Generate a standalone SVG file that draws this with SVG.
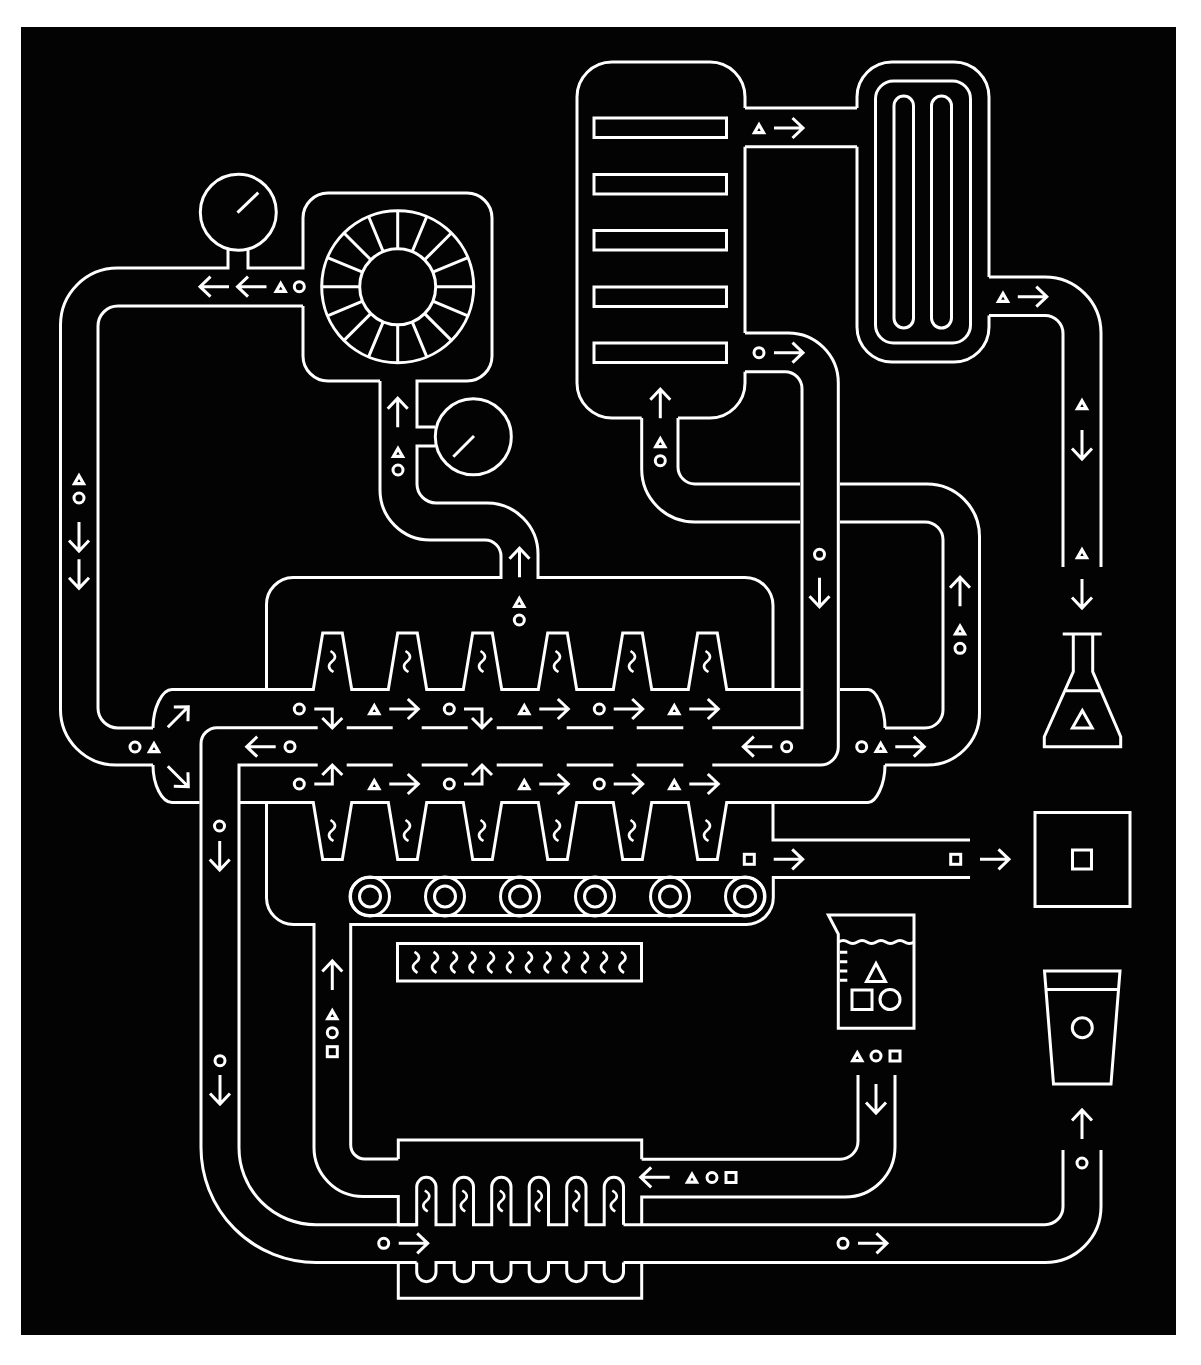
<svg xmlns="http://www.w3.org/2000/svg" width="1201" height="1365" viewBox="0 0 1201 1365">
<style>
.l{fill:none;stroke:#fff;stroke-width:3}
use{fill:none;stroke:#fff;stroke-width:3}
</style>
<defs>
<path id="a" d="M-29,0H0M-10.5,-10L0,0L-10.5,10"/>
<path id="e" d="M-18,-19H0V-1M-10,-10L0,0L10,-10"/>
<path id="t" d="M0,-3.2L4.5,4.6H-4.5Z" stroke-width="3.2"/>
<circle id="c" r="5"/>
<rect id="s" x="-5" y="-5" width="10" height="10"/>
<path id="w" d="M-1.5,-10.5C4.5,-7 4,-3 0,0C-4,3 -4.5,7 1.5,10.5" stroke-width="2.6"/>
</defs>
<rect x="0" y="0" width="1201" height="1365" fill="#fff"/>
<rect x="21" y="27" width="1155" height="1308" fill="#030303"/>
<g id="connectors" class="l">
<path d="M153,765H116A55.5,55.5 0 0 1 60.5,709.5V325A57,57 0 0 1 117.5,268H228V250"/>
<path d="M153,728H118A20,20 0 0 1 98,708V326A20,20 0 0 1 118,306H303"/>
<path d="M380,381V490A50,50 0 0 0 430,540H485A16,16 0 0 1 501,556V577.5H293A27,27 0 0 0 266.5,604.5V689.5"/>
<path d="M435,446H417V484A19,19 0 0 0 436,503H487A51,51 0 0 1 538,554V577.5H745A28,28 0 0 1 773,605.5V689.5"/>
<path d="M745,371.7H785A17,17 0 0 1 802,388.7V727.7H712.3"/>
<path d="M745,333H788A50,50 0 0 1 838.3,383V747A18,18 0 0 1 820.3,765H712.3"/>
<path d="M678,418V467A17,17 0 0 0 695,484H800"/>
<path d="M641.7,418V469A53,53 0 0 0 694.7,522H800"/>
<path d="M840,484H927A52.5,52.5 0 0 1 979.5,536.5V713A52,52 0 0 1 927.5,765H885"/>
<path d="M840,522H925A18,18 0 0 1 943,540V710A18,18 0 0 1 925,728H885"/>
<path d="M745,108H857M745,146.7H857"/>
<path d="M989,277H1045A56,56 0 0 1 1101,333V567"/>
<path d="M989,315.5H1045A18,18 0 0 1 1063,333.5V567"/>
<path d="M317.7,727.7H217A16,16 0 0 0 201,743.7V1147A115,115 0 0 0 316,1262.5H416.7"/>
<path d="M317.7,765H239V1147A77,77 0 0 0 316,1224.7H416.7"/>
<path d="M346.7,727.7H392.7M421.7,727.7H467.7M496.7,727.7H542.7M566.7,727.7H613.3M636.7,727.7H683.3"/>
<path d="M346.7,765H392.7M421.7,765H467.7M496.7,765H542.7M566.7,765H613.3M636.7,765H683.3"/>
<path d="M266.5,802.5V898A27,27 0 0 0 293.5,924.5H314V1147A49,49 0 0 0 363,1196.5H398.3V1224.7"/>
<path d="M773,802.5V840H970M970,877.5H773.3V897A27,27 0 0 1 746.3,924.5H350.7V1145A14,14 0 0 0 364.7,1159H398.3"/>
<path d="M623.5,1224.7H1045A18,18 0 0 0 1063,1206.7V1150"/>
<path d="M623.5,1262.5H1045A56,56 0 0 0 1101,1206.5V1150"/>
<path d="M641.7,1224.7V1197H845A50,50 0 0 0 895,1147V1075"/>
<path d="M641.7,1159.3H840A18,18 0 0 0 858,1141.3V1075"/>
</g>
<g id="gauge-top" class="l">
<circle cx="238.3" cy="212.3" r="38"/>
<path d="M237.5,212.7L258.3,192.7"/>
</g>
<g id="gauge-mid" class="l">
<circle cx="473.3" cy="436.7" r="38"/>
<path d="M453.3,456.7L474,436"/>
</g>
<g id="turbine" class="l">
<path d="M248,250V268H303V218A25,25 0 0 1 328,193H467A25,25 0 0 1 492,218V356A25,25 0 0 1 467,381H417V427H435M303,306V356A25,25 0 0 0 328,381H380"/>
<g transform="translate(397.7,286.7)">
<circle r="76"/>
<circle r="38"/>
<path d="M38,0H76M-38,0H-76M0,38V76M0,-38V-76M35.1,14.5L70.2,29.1M-35.1,14.5L-70.2,29.1M35.1,-14.5L70.2,-29.1M-35.1,-14.5L-70.2,-29.1M14.5,35.1L29.1,70.2M-14.5,35.1L-29.1,70.2M14.5,-35.1L29.1,-70.2M-14.5,-35.1L-29.1,-70.2M26.9,26.9L53.7,53.7M-26.9,26.9L-53.7,53.7M26.9,-26.9L53.7,-53.7M-26.9,-26.9L-53.7,-53.7"/>
</g>
</g>
<g id="column" class="l">
<path d="M745,108V97A35,35 0 0 0 710,62H612A35,35 0 0 0 577,97V383A35,35 0 0 0 612,418H641.7M678,418H710A35,35 0 0 0 745,383V371.7M745,146.7V333"/>
<rect x="594" y="118" width="132.5" height="19.5"/>
<rect x="594" y="174.5" width="132.5" height="19.5"/>
<rect x="594" y="230.5" width="132.5" height="19.5"/>
<rect x="594" y="287" width="132.5" height="19.5"/>
<rect x="594" y="343" width="132.5" height="19.5"/>
</g>
<g id="condenser" class="l">
<path d="M857,108V97A35,35 0 0 1 892,62H954A35,35 0 0 1 989,97V277M857,146.7V327A35,35 0 0 0 892,362H954A35,35 0 0 0 989,327V315.5"/>
<rect x="875.5" y="81" width="95" height="262" rx="18"/>
<rect x="894" y="96" width="19.5" height="232" rx="9.75"/>
<rect x="931.5" y="96" width="20" height="232" rx="10"/>
</g>
<g id="reactor" class="l">
<path d="M153,728C153,708 162,689.5 172,689.5H313.3L322.7,633H342.3L351.7,689.5H388.3L397.7,633H417.3L426.7,689.5H463.3L472.7,633H492.3L501.7,689.5H538.3L547.7,633H567.3L576.7,689.5H613.3L622.7,633H642.3L651.7,689.5H688.3L697.7,633H717.3L726.7,689.5H801.7"/>
<path d="M153,765C153,785 162,802.5 172,802.5H199.5"/>
<path d="M885,765C885,785 876,802.5 868,802.5H726.7L717.3,859.5H697.7L688.3,802.5H651.7L642.3,859.5H622.7L613.3,802.5H576.7L567.3,859.5H547.7L538.3,802.5H501.7L492.3,859.5H472.7L463.3,802.5H426.7L417.3,859.5H397.7L388.3,802.5H351.7L342.3,859.5H322.7L313.3,802.5H239"/>
<path d="M885,728C885,708 876,689.5 868,689.5H840"/>
<use href="#w" x="332" y="661.5"/><use href="#w" x="407" y="661.5"/><use href="#w" x="482" y="661.5"/><use href="#w" x="557" y="661.5"/><use href="#w" x="632" y="661.5"/><use href="#w" x="707" y="661.5"/>
<use href="#w" x="332" y="830.5"/><use href="#w" x="407" y="830.5"/><use href="#w" x="482" y="830.5"/><use href="#w" x="557" y="830.5"/><use href="#w" x="632" y="830.5"/><use href="#w" x="707" y="830.5"/>
</g>
<g id="conveyor" class="l">
<rect x="350" y="877.5" width="415" height="38" rx="19"/>
<circle cx="370" cy="896.5" r="19.5"/><circle cx="370" cy="896.5" r="10.5"/>
<circle cx="445" cy="896.5" r="19.5"/><circle cx="445" cy="896.5" r="10.5"/>
<circle cx="520" cy="896.5" r="19.5"/><circle cx="520" cy="896.5" r="10.5"/>
<circle cx="595" cy="896.5" r="19.5"/><circle cx="595" cy="896.5" r="10.5"/>
<circle cx="670" cy="896.5" r="19.5"/><circle cx="670" cy="896.5" r="10.5"/>
<circle cx="745" cy="896.5" r="19.5"/><circle cx="745" cy="896.5" r="10.5"/>
</g>
<g id="heater" class="l">
<rect x="397.5" y="943.5" width="244" height="37.5"/>
<use href="#w" x="416" y="962.3"/><use href="#w" x="435" y="962.3"/><use href="#w" x="454" y="962.3"/><use href="#w" x="472.5" y="962.3"/><use href="#w" x="491" y="962.3"/><use href="#w" x="510" y="962.3"/><use href="#w" x="529" y="962.3"/><use href="#w" x="547.5" y="962.3"/><use href="#w" x="566" y="962.3"/><use href="#w" x="585" y="962.3"/><use href="#w" x="604" y="962.3"/><use href="#w" x="622.5" y="962.3"/>
</g>
<g id="exchanger" class="l">
<path d="M398.3,1159V1140H641.7V1159.3"/>
<path d="M398.3,1224.7H416.7V1187A9.65,9.65 0 0 1 436,1187V1224.7H454.2V1187A9.65,9.65 0 0 1 473.5,1187V1224.7H491.7V1187A9.65,9.65 0 0 1 511,1187V1224.7H529.2V1187A9.65,9.65 0 0 1 548.5,1187V1224.7H566.7V1187A9.65,9.65 0 0 1 586,1187V1224.7H604.2V1187A9.65,9.65 0 0 1 623.5,1187V1224.7"/>
<path d="M416.7,1262.5V1272A9.65,9.65 0 0 0 436,1272V1262.5H454.2V1272A9.65,9.65 0 0 0 473.5,1272V1262.5H491.7V1272A9.65,9.65 0 0 0 511,1272V1262.5H529.2V1272A9.65,9.65 0 0 0 548.5,1272V1262.5H566.7V1272A9.65,9.65 0 0 0 586,1272V1262.5H604.2V1272A9.65,9.65 0 0 0 623.5,1272V1262.5"/>
<path d="M398.3,1262.5V1298.3H641.7V1262.5"/>
<use href="#w" x="426.3" y="1201"/><use href="#w" x="463.8" y="1201"/><use href="#w" x="501.3" y="1201"/><use href="#w" x="538.8" y="1201"/><use href="#w" x="576.3" y="1201"/><use href="#w" x="613.8" y="1201"/>
</g>
<g id="flask" class="l">
<path d="M1062.7,634H1101.7M1073.3,634V671.7L1044.3,736.7V746.7H1120.7V736.7L1092.7,671.7V634M1066,690.7H1100.7"/>
<path d="M1082.3,710.5L1092.2,728H1072.4Z"/>
</g>
<g id="product-box" class="l">
<rect x="1035" y="812.5" width="95" height="94"/>
<rect x="1072.5" y="850" width="19" height="19"/>
</g>
<g id="beaker" class="l">
<path d="M914,915H828.3L838.3,934V1028.3H914Z"/>
<path d="M838.5,942q4.7,-3 9.45,0t9.45,0t9.45,0t9.45,0t9.45,0t9.45,0t9.45,0t9.45,0"/>
<path d="M840,952.3H847.3M840,961.7H847.3M840,971H847.3M840,980.3H847.3"/>
<path d="M876,963.5L885.5,981.5H866.5Z"/>
<rect x="852" y="990" width="20" height="19.5"/>
<circle cx="890" cy="999.5" r="10"/>
</g>
<g id="cup" class="l">
<path d="M1044.5,971H1120L1111,1084H1053.5Z"/>
<path d="M1046,989.5H1118.5"/>
<circle cx="1082.3" cy="1027.7" r="10"/>
</g>
<g id="flow-markers">
<use href="#a" transform="translate(200,286.7) rotate(180)"/>
<use href="#a" transform="translate(237.5,286.7) rotate(180)"/>
<use href="#t" x="280.7" y="286.7"/><use href="#c" x="299.3" y="286.7"/>
<use href="#a" transform="translate(397.7,398.3) rotate(-90)"/>
<use href="#t" x="398" y="451.7"/><use href="#c" x="398" y="470"/>
<use href="#a" transform="translate(519.5,548.3) rotate(-90)"/>
<use href="#t" x="519.3" y="601.7"/><use href="#c" x="519.3" y="620"/>
<use href="#t" x="79" y="479"/><use href="#c" x="79" y="498"/>
<use href="#a" transform="translate(79,551) rotate(90)"/>
<use href="#a" transform="translate(79,588.3) rotate(90)"/>
<use href="#c" x="135" y="747"/><use href="#t" x="154" y="747"/>
<use href="#a" transform="translate(188.3,706.7) rotate(-45)"/>
<use href="#a" transform="translate(188.3,786.7) rotate(45)"/>
<use href="#c" x="299.3" y="709"/><use href="#e" transform="translate(332.3,728)"/>
<use href="#t" x="374.3" y="709"/><use href="#a" x="418.3" y="709"/>
<use href="#c" x="449.3" y="709"/><use href="#e" transform="translate(482,728)"/>
<use href="#t" x="524.3" y="709"/><use href="#a" x="568.3" y="709"/>
<use href="#c" x="599.3" y="709"/><use href="#a" x="642.7" y="709"/>
<use href="#t" x="674.3" y="709"/><use href="#a" x="718.3" y="709"/>
<use href="#c" x="299.3" y="784"/><use href="#e" transform="translate(332.3,765) scale(1,-1)"/>
<use href="#t" x="374.3" y="784"/><use href="#a" x="418.3" y="784"/>
<use href="#c" x="449.3" y="784"/><use href="#e" transform="translate(482,765) scale(1,-1)"/>
<use href="#t" x="524.3" y="784"/><use href="#a" x="568.3" y="784"/>
<use href="#c" x="599.3" y="784"/><use href="#a" x="642.7" y="784"/>
<use href="#t" x="674.3" y="784"/><use href="#a" x="718.3" y="784"/>
<use href="#c" x="290" y="746.7"/><use href="#a" transform="translate(246.7,746.7) rotate(180)"/>
<use href="#c" x="786.7" y="746.7"/><use href="#a" transform="translate(743.3,746.7) rotate(180)"/>
<use href="#c" x="861.7" y="746.7"/><use href="#t" x="880.7" y="746.7"/><use href="#a" x="924.3" y="746.7"/>
<use href="#c" x="219.5" y="826"/><use href="#a" transform="translate(219.7,870) rotate(90)"/>
<use href="#t" x="759" y="128"/><use href="#a" x="803" y="128"/>
<use href="#c" x="759" y="352.7"/><use href="#a" x="803" y="352.7"/>
<use href="#t" x="1003" y="296.7"/><use href="#a" x="1046.8" y="296.7"/>
<use href="#t" x="1082" y="404"/><use href="#a" transform="translate(1082,459) rotate(90)"/>
<use href="#t" x="1082" y="553"/><use href="#a" transform="translate(1082,608) rotate(90)"/>
<use href="#a" transform="translate(660.3,389.3) rotate(-90)"/>
<use href="#t" x="660.3" y="442"/><use href="#c" x="660.3" y="460.7"/>
<use href="#c" x="819.5" y="554.3"/><use href="#a" transform="translate(819.5,606.7) rotate(90)"/>
<use href="#a" transform="translate(960,577.3) rotate(-90)"/>
<use href="#t" x="960" y="629.3"/><use href="#c" x="960" y="648.3"/>
<use href="#s" x="749.3" y="859.3"/><use href="#a" x="802.7" y="859.3"/>
<use href="#s" x="955.7" y="859.3"/><use href="#a" x="1009" y="859.3"/>
<use href="#a" transform="translate(332.3,961) rotate(-90)"/>
<use href="#t" x="332.3" y="1014"/><use href="#c" x="332.3" y="1032.7"/><use href="#s" x="332.3" y="1051.7"/>
<use href="#c" x="220" y="1060.7"/><use href="#a" transform="translate(220,1104) rotate(90)"/>
<use href="#c" x="383.7" y="1243.3"/><use href="#a" x="427.7" y="1243.3"/>
<use href="#a" transform="translate(640.7,1177.3) rotate(180)"/>
<use href="#t" x="692" y="1177.5"/><use href="#c" x="712" y="1177.5"/><use href="#s" x="731" y="1177.5"/>
<use href="#c" x="843" y="1243.3"/><use href="#a" x="887" y="1243.3"/>
<use href="#t" x="857.3" y="1056"/><use href="#c" x="876" y="1056"/><use href="#s" x="895" y="1056"/>
<use href="#a" transform="translate(876,1113) rotate(90)"/>
<use href="#a" transform="translate(1082,1110) rotate(-90)"/>
<use href="#c" x="1082" y="1163"/>
</g>
</svg>
